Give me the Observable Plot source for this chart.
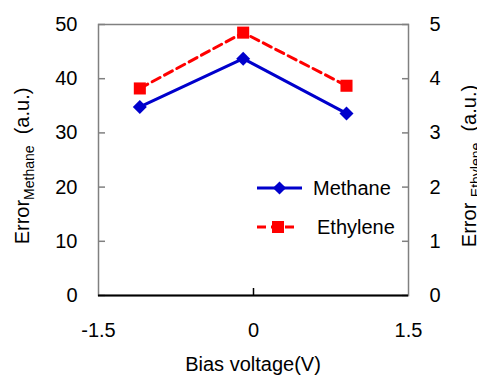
<!DOCTYPE html>
<html>
<head>
<meta charset="utf-8">
<script src="https://cdn.jsdelivr.net/npm/d3@7"></script>
<script src="https://cdn.jsdelivr.net/npm/@observablehq/plot@0.6"></script>
<style>
  html, body { margin: 0; padding: 0; background: white; }
</style>
</head>
<body>
<div id="chart"></div>
<script>
// ---- data ----
const biasVoltage = [-1.1, -0.1, 0.9];
const methaneError = [34.8, 43.7, 33.6];
const ethyleneError = [3.82, 4.85, 3.87];
const xTicks = [-1.5, 0, 1.5];
const leftTicks = [0, 10, 20, 30, 40, 50];
const rightTicks = [0, 1, 2, 3, 4, 5];
const seriesNames = ["Methane", "Ethylene"];
const xTitle = "Bias voltage(V)";

const RATIO = 10; // right axis (0-5) mapped onto left axis (0-50)
const methane = biasVoltage.map((x, i) => ({x, y: methaneError[i]}));
const ethylene = biasVoltage.map((x, i) => ({x, y: ethyleneError[i]}));

const BLUE = "#0000CC", RED = "#FF0000", GRAY = "#808080";
const FONT = "'Liberation Sans', Arial, sans-serif";

const chart = Plot.plot({
  width: 477,
  height: 377,
  marginLeft: 98,
  marginRight: 69,
  marginTop: 24,
  marginBottom: 82,
  style: {fontFamily: FONT, fontSize: "20px", color: "black", background: "white", overflow: "visible"},
  x: {domain: [-1.5, 1.5]},
  y: {domain: [0, 50]},
  marks: [
    Plot.frame({stroke: GRAY, strokeWidth: 1.5}),
    Plot.axisY({ticks: leftTicks, anchor: "left", tickSize: 0, tickPadding: 21, label: null}),
    Plot.axisY({ticks: leftTicks, anchor: "left", tickSize: -7, text: null, label: null, stroke: GRAY, strokeWidth: 1.5}),
    Plot.axisY({ticks: rightTicks.map(d => d * RATIO), anchor: "right", tickSize: 0, tickPadding: 21, label: null, tickFormat: d => String(d / RATIO)}),
    Plot.axisY({ticks: rightTicks.map(d => d * RATIO), anchor: "right", tickSize: -7, text: null, label: null, stroke: GRAY, strokeWidth: 1.5}),
    Plot.axisX({ticks: xTicks, anchor: "bottom", tickSize: 0, tickPadding: 27, label: null, tickFormat: d => String(d)}),
    Plot.axisX({ticks: [0], anchor: "bottom", tickSize: -7, text: null, label: null, stroke: "black", strokeWidth: 1.5}),
    Plot.ruleY([0], {stroke: "black", strokeWidth: 2}),
    Plot.line(ethylene, {x: "x", y: d => d.y * RATIO, stroke: RED, strokeWidth: 3, strokeDasharray: "9,5"}),
    Plot.dot(ethylene, {x: "x", y: d => d.y * RATIO, symbol: "square", r: 6.8, fill: RED, stroke: "none"}),
    Plot.line(methane, {x: "x", y: "y", stroke: BLUE, strokeWidth: 3}),
    Plot.dot(methane, {x: "x", y: "y", symbol: "diamond2", r: 6.3, fill: BLUE, stroke: "none"})
  ]
});

document.getElementById("chart").appendChild(chart);

// ---- titles and legend ----
const svg = d3.select(chart);
const g = svg.append("g").attr("font-family", FONT).attr("fill", "black");

g.append("text")
  .attr("x", 253).attr("y", 371)
  .attr("text-anchor", "middle").attr("font-size", 20)
  .text(xTitle);

function yTitle(cx, cy, sub, gap) {
  const t = g.append("text")
    .attr("transform", `translate(${cx},${cy}) rotate(-90)`)
    .attr("text-anchor", "middle").attr("font-size", 20);
  t.append("tspan").text("Error" + (gap ? "\u00a0" : ""));
  t.append("tspan").attr("font-size", 14).attr("dy", 5).text(sub);
  t.append("tspan").attr("dy", -5).text("\u00a0\u00a0(a.u.)");
}
yTitle(29, 166, "Methane", false);
yTitle(476, 166, "Ethylene", true);

// legend
const leg = g.append("g");
const rows = [
  {name: seriesNames[0], y: 188, color: BLUE, dash: null, sym: d3.symbolDiamond2, size: 110, x1: 257, x2: 302, tx: 313},
  {name: seriesNames[1], y: 227, color: RED, dash: "9,5", sym: d3.symbolSquare, size: 144, x1: 257, x2: 299, tx: 317}
];
rows.forEach(r => {
  leg.append("line").attr("x1", r.x1).attr("x2", r.x2).attr("y1", r.y).attr("y2", r.y)
    .attr("stroke", r.color).attr("stroke-width", 3).attr("stroke-dasharray", r.dash);
  leg.append("path").attr("d", d3.symbol(r.sym, r.size)())
    .attr("transform", `translate(${(r.x1 + r.x2) / 2},${r.y})`).attr("fill", r.color);
  leg.append("text").attr("x", r.tx).attr("y", r.y + 7).attr("font-size", 20)
    .attr("text-anchor", "start").text(r.name);
});
</script>
</body>
</html>
